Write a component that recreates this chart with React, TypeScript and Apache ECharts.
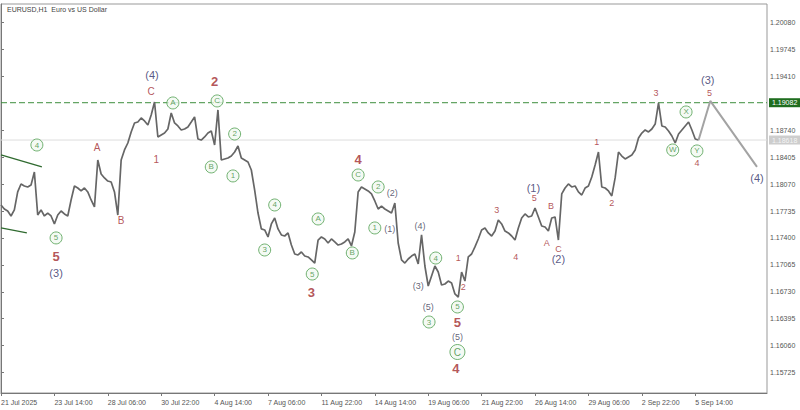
import React, { useEffect, useRef } from "react";
import * as echarts from "echarts";

// ---- data ----
const chartTitle = "EURUSD,H1  Euro vs US Dollar";
const barsPerTick = 64; // H1 bars between time labels
const sampleStep = 4; // one close sampled every 4 bars
const xTickLabels = [
  "21 Jul 2025", "23 Jul 14:00", "28 Jul 06:00", "30 Jul 22:00", "4 Aug 14:00",
  "7 Aug 06:00", "11 Aug 22:00", "14 Aug 14:00", "19 Aug 06:00", "21 Aug 22:00",
  "26 Aug 14:00", "29 Aug 06:00", "2 Sep 22:00", "5 Sep 14:00",
];
const yTicks = [
  1.15725, 1.1606, 1.16395, 1.1673, 1.17065, 1.174, 1.17735, 1.1807, 1.18405,
  1.1874, 1.1941, 1.19745, 1.2008,
];
const yMin = 1.15471;
const yMax = 1.2031;
const xMax = 918;

const closes = [
  1.17810, 1.17760, 1.17735, 1.17673, 1.17748, 1.17972, 1.18071, 1.18046, 1.18034, 1.18058,
  1.18220, 1.17685, 1.17748, 1.17673, 1.17710, 1.17673, 1.17574, 1.17685, 1.17735, 1.17698,
  1.17673, 1.17872, 1.18046, 1.18021, 1.17984, 1.18021, 1.17972, 1.17872, 1.17785, 1.18370,
  1.18195, 1.18146, 1.18108, 1.18096, 1.17972, 1.17685, 1.18370, 1.18494, 1.18581, 1.18718,
  1.18830, 1.18842, 1.18892, 1.18855, 1.18805, 1.18929, 1.19091, 1.18656, 1.18681, 1.18705,
  1.18755, 1.18954, 1.18830, 1.18793, 1.18743, 1.18755, 1.18780, 1.18842, 1.18905, 1.18631,
  1.18618, 1.18656, 1.18705, 1.18730, 1.18556, 1.18992, 1.18370, 1.18382, 1.18394, 1.18419,
  1.18469, 1.18544, 1.18394, 1.18370, 1.18345, 1.18245, 1.17996, 1.17710, 1.17512, 1.17499,
  1.17412, 1.17574, 1.17648, 1.17512, 1.17437, 1.17424, 1.17462, 1.17312, 1.17200, 1.17188,
  1.17225, 1.17175, 1.17163, 1.17126, 1.17088, 1.17374, 1.17412, 1.17387, 1.17337, 1.17387,
  1.17350, 1.17312, 1.17325, 1.17350, 1.17387, 1.17300, 1.17474, 1.17972, 1.18034, 1.18009,
  1.17984, 1.17947, 1.17860, 1.17760, 1.17797, 1.17760, 1.17735, 1.17710, 1.17835, 1.17337,
  1.17126, 1.17088, 1.17138, 1.17175, 1.17200, 1.17076, 1.17437, 1.17051, 1.16802, 1.16927,
  1.17051, 1.16976, 1.16815, 1.16827, 1.16864, 1.16840, 1.16703, 1.16665, 1.16976, 1.16864,
  1.17163, 1.17200, 1.17288, 1.17387, 1.17499, 1.17524, 1.17462, 1.17424, 1.17486, 1.17623,
  1.17574, 1.17486, 1.17462, 1.17424, 1.17374, 1.17524, 1.17648, 1.17698, 1.17661, 1.17673,
  1.17772, 1.17661, 1.17549, 1.17536, 1.17486, 1.17648, 1.17661, 1.17374, 1.17947, 1.18021,
  1.18071, 1.18034, 1.18046, 1.17972, 1.17934, 1.18021, 1.18046, 1.18158, 1.18307, 1.18469,
  1.18034, 1.18021, 1.17984, 1.17922, 1.18146, 1.18469, 1.18419, 1.18382, 1.18407, 1.18432,
  1.18494, 1.18643, 1.18705, 1.18743, 1.18718, 1.18755, 1.18817, 1.19079, 1.18793, 1.18780,
  1.18730, 1.18668, 1.18581, 1.18693, 1.18743, 1.18793, 1.18842, 1.18743, 1.18631, 1.18618,
];

const projection = [
  [836, 1.18618],
  [850, 1.19104],
  [906, 1.18283],
];
const channelUpper = [
  [0, 1.18432],
  [49, 1.18283],
];
const channelLower = [
  [0, 1.17524],
  [31, 1.17462],
];
const resistanceLevel = 1.19082;
const lastPrice = 1.18618;

// wave labels: [bar index, price, text]
const labelsNavyBig = [
  [181, 1.19427, "(4)"],
  [66, 1.16964, "(3)"],
  [847, 1.19365, "(3)"],
  [906, 1.18146, "(4)"],
  [638, 1.18021, "(1)"],
  [668, 1.17138, "(2)"],
];
const labelsNavySmall = [
  [466, 1.17512, "(1)"],
  [469, 1.17959, "(2)"],
  [502, 1.17549, "(4)"],
  [500, 1.16802, "(3)"],
  [512, 1.16541, "(5)"],
  [547, 1.16168, "(5)"],
];
const labelsRedBig = [
  [66, 1.17163, "5"],
  [256, 1.1934, "2"],
  [428, 1.1837, "4"],
  [372, 1.16715, "3"],
  [545, 1.1577, "4"],
  [547, 1.16354, "5"],
];
const labelsRedMid = [
  [115, 1.18531, "A"],
  [144, 1.17611, "B"],
  [180, 1.19216, "C"],
  [186, 1.1837, "1"],
];
const labelsRedSmall = [
  [548, 1.1715, "1"],
  [554, 1.1679, "2"],
  [594, 1.17748, "3"],
  [617, 1.17163, "4"],
  [639, 1.17897, "5"],
  [654, 1.17337, "A"],
  [659, 1.17797, "B"],
  [668, 1.17263, "C"],
  [714, 1.18594, "1"],
  [732, 1.17835, "2"],
  [785, 1.19203, "3"],
  [834, 1.18332, "4"],
  [849, 1.19203, "5"],
];
const labelsCircled = [
  [43, 1.18556, "4"],
  [66, 1.174, "5"],
  [206, 1.19079, "A"],
  [259, 1.19104, "C"],
  [252, 1.18283, "B"],
  [280, 1.18693, "2"],
  [278, 1.18171, "1"],
  [316, 1.1725, "3"],
  [328, 1.1781, "4"],
  [380, 1.17636, "A"],
  [373, 1.16951, "5"],
  [421, 1.17213, "B"],
  [428, 1.18183, "C"],
  [452, 1.18034, "2"],
  [448, 1.17524, "1"],
  [521, 1.1715, "4"],
  [513, 1.16354, "3"],
  [547, 1.16541, "5"],
  [805, 1.18494, "W"],
  [821, 1.18967, "X"],
  [834, 1.18482, "Y"],
];
const labelsCircledBig = [[547, 1.15981, "C"]];

const FONT = "Liberation Sans";

function textSeries(data: any[], color: string, fontSize: number, fontWeight: string) {
  return {
    type: "scatter",
    data,
    symbolSize: 1,
    itemStyle: { color: "rgba(0,0,0,0)" },
    silent: true,
    z: 5,
    label: {
      show: true,
      position: "inside",
      formatter: (p: any) => p.data[2],
      color,
      fontSize,
      fontWeight,
      fontFamily: FONT,
    },
  };
}

function circleSeries(data: any[], size: number, fontSize: number) {
  return {
    type: "scatter",
    data,
    symbol: "circle",
    symbolSize: size,
    silent: true,
    z: 6,
    itemStyle: { color: "#f1f9f1", borderColor: "#4f9f4f", borderWidth: 1 },
    label: {
      show: true,
      position: "inside",
      formatter: (p: any) => p.data[2],
      color: "#3d8d3d",
      fontSize,
      fontFamily: FONT,
    },
  };
}

function levelSeries(level: number, lineStyle: any, boxColor: string, textColor: string) {
  return {
    type: "line",
    data: [
      [0, level],
      [xMax, level],
    ],
    showSymbol: false,
    silent: true,
    z: 2,
    lineStyle,
    endLabel: {
      show: true,
      formatter: level.toFixed(5),
      distance: 2,
      backgroundColor: boxColor,
      color: textColor,
      padding: [1, 3],
      fontSize: 7,
      fontFamily: FONT,
    },
  };
}

export default function App() {
  const ref = useRef<HTMLDivElement>(null);
  useEffect(() => {
    if (!ref.current) return;
    const chart = echarts.init(ref.current, null, { renderer: "svg" });
    const xTickValues = xTickLabels.map((_, i) => i * barsPerTick);
    const option: any = {
      animation: false,
      backgroundColor: "#ffffff",
      title: {
        text: chartTitle,
        left: 2,
        top: 1,
        textStyle: { fontSize: 7, color: "#444", fontWeight: "normal", fontFamily: FONT },
      },
      grid: {
        left: 1,
        right: 33,
        top: 4,
        bottom: 17,
        show: true,
        borderColor: "#999",
        borderWidth: 1,
        containLabel: false,
        outerBoundsMode: "none",
      },
      xAxis: {
        type: "value",
        min: 0,
        max: xMax,
        interval: barsPerTick,
        axisLine: { show: true, lineStyle: { color: "#777" } },
        axisTick: { show: true, length: 3, customValues: xTickValues, lineStyle: { color: "#777" } },
        axisLabel: {
          customValues: xTickValues,
          formatter: (v: number) => xTickLabels[Math.round(v / barsPerTick)] ?? "",
          align: "left",
          fontSize: 7,
          color: "#555",
          margin: 6,
          fontFamily: FONT,
        },
        splitLine: { show: false },
      },
      yAxis: {
        type: "value",
        position: "right",
        min: yMin,
        max: yMax,
        scale: true,
        axisLine: { show: true, lineStyle: { color: "#777" } },
        axisTick: { show: true, length: 3, customValues: yTicks, lineStyle: { color: "#777" } },
        axisLabel: {
          customValues: yTicks,
          formatter: (v: number) => v.toFixed(5),
          fontSize: 7,
          color: "#555",
          margin: 3,
          fontFamily: FONT,
        },
        splitLine: { show: false },
      },
      series: [
        levelSeries(lastPrice, { color: "#dddddd", type: "solid", width: 1 }, "#cdcdcd", "#f4f4f4"),
        levelSeries(resistanceLevel, { color: "#3e8e3e", type: [6, 3], width: 1 }, "#1f6d1f", "#ffffff"),
        {
          type: "line",
          data: closes.map((v, i) => [i * sampleStep, v]),
          showSymbol: false,
          silent: true,
          lineStyle: { color: "#666666", width: 1.7 },
          z: 3,
        },
        {
          type: "line",
          data: projection,
          showSymbol: false,
          silent: true,
          lineStyle: { color: "#a3a3a3", width: 2 },
          z: 3,
        },
        {
          type: "line",
          data: channelUpper,
          showSymbol: false,
          silent: true,
          lineStyle: { color: "#2f6a2f", width: 1.3 },
        },
        {
          type: "line",
          data: channelLower,
          showSymbol: false,
          silent: true,
          lineStyle: { color: "#2f6a2f", width: 1.3 },
        },
        textSeries(labelsNavyBig, "#2e2e66", 11, "normal"),
        textSeries(labelsNavySmall, "#3a3a55", 9, "normal"),
        textSeries(labelsRedBig, "#a12a2e", 13, "bold"),
        textSeries(labelsRedMid, "#a12a2e", 10, "normal"),
        textSeries(labelsRedSmall, "#a12a2e", 9, "normal"),
        circleSeries(labelsCircled, 12, 8),
        circleSeries(labelsCircledBig, 15, 10),
      ],
    };
    chart.setOption(option);
    return () => chart.dispose();
  }, []);
  return (
    <div
      ref={ref}
      style={{ position: "fixed", left: 0, top: 0, width: 800, height: 410, background: "#fff" }}
    />
  );
}
